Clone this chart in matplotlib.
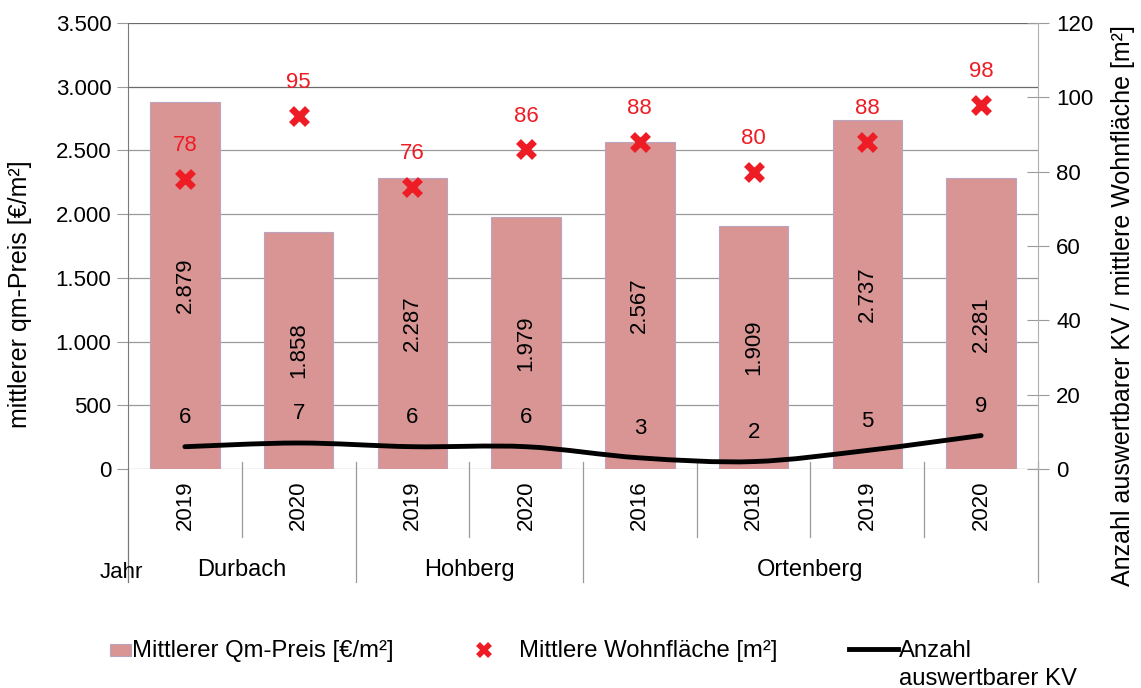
import matplotlib
matplotlib.use("Agg")
import matplotlib.pyplot as plt
from matplotlib.path import Path
from matplotlib.patches import PathPatch, Rectangle
from matplotlib.lines import Line2D
from matplotlib.ticker import FuncFormatter, MultipleLocator

plt.rcParams['font.family'] = ['Liberation Sans', 'DejaVu Sans']

# Data
groups = ["Durbach", "Hohberg", "Ortenberg"]
group_sizes = [2, 2, 4]
years = ["2019", "2020", "2019", "2020", "2016", "2018", "2019", "2020"]
price = [2879, 1858, 2287, 1979, 2567, 1909, 2737, 2281]       # Mittlerer Qm-Preis [€/m²]
area = [78, 95, 76, 86, 88, 80, 88, 98]                         # Mittlere Wohnfläche [m²]
count = [6, 7, 6, 6, 3, 2, 5, 9]                                # Anzahl auswertbarer KV

BAR_COLOR = "#d99594"
BAR_EDGE = "#b9a3bf"
RED = "#ee1c25"
GRID = "#9a9a9a"
FS = 16
GFS = 17
LFS = 18
LEG_FS = 17.2

def de_fmt(v, _pos=None):
    return f"{v:,.0f}".replace(",", ".")

fig = plt.figure(figsize=(11.41, 6.88), dpi=100)
ax = fig.add_axes([0.1122, 0.3183, 0.7975, 0.6483])
ax2 = ax.twinx()

n = len(price)
xs = list(range(n))

# Bars (left axis)
ax.bar(xs, price, width=0.61, color=BAR_COLOR, edgecolor=BAR_EDGE, linewidth=0.8, zorder=2)
for x, v in zip(xs, price):
    ax.text(x, v / 2, de_fmt(v), rotation=90, ha="center", va="center", fontsize=FS, zorder=3)

ax.set_xlim(-0.5, n - 0.5)
ax.set_ylim(0, 3500)
ax.yaxis.set_major_locator(MultipleLocator(500))
ax.yaxis.set_major_formatter(FuncFormatter(de_fmt))
ax.set_axisbelow(True)
for t in range(0, 3501, 500):
    ax.axhline(t, color="#6a6a6a" if t >= 3000 else GRID, lw=0.9, zorder=0)
ax.set_xticks([])
for s in ["top", "bottom"]:
    ax.spines[s].set_visible(False)
ax.spines["left"].set_color("#7a7a7a")
ax.spines["right"].set_visible(False)
ax.tick_params(axis="y", length=8, color=GRID, labelsize=FS, pad=4)
ax.set_ylabel("mittlerer qm-Preis [€/m²]", fontsize=LFS)
ax.yaxis.set_label_coords(-0.106, 0.392)

# Right axis: markers and smoothed count line
ax2.set_ylim(0, 120)
ax2.yaxis.set_major_locator(MultipleLocator(20))
ax2.tick_params(axis="y", direction="inout", length=16, color=GRID, labelsize=FS, pad=5)
for s in ["top", "bottom", "left"]:
    ax2.spines[s].set_visible(False)
ax2.spines["right"].set_color("#b0b0b0")
ax2.set_ylabel("Anzahl auswertbarer KV / mittlere Wohnfläche [m²]", fontsize=LFS)
ax2.yaxis.set_label_coords(1.080, 0.367)

ax2.plot(xs, area, linestyle="none", marker="x", ms=12, mew=5, color=RED, zorder=5)
for x, v in zip(xs, area):
    ax2.annotate(str(v), (x, v), xytext=(0, 24), textcoords="offset points",
                 ha="center", va="center", color=RED, fontsize=FS, zorder=6)

# Smoothed line through the counts (cubic Bezier segments)
pts = list(zip(xs, count))
verts = [pts[0]]
codes = [Path.MOVETO]
for i in range(n - 1):
    p0 = pts[i - 1] if i > 0 else pts[i]
    p1 = pts[i]
    p2 = pts[i + 1]
    p3 = pts[i + 2] if i + 2 < n else pts[i + 1]
    c1 = (p1[0] + (p2[0] - p0[0]) / 6, p1[1] + (p2[1] - p0[1]) / 6)
    c2 = (p2[0] - (p3[0] - p1[0]) / 6, p2[1] - (p3[1] - p1[1]) / 6)
    verts += [c1, c2, p2]
    codes += [Path.CURVE4] * 3
ax2.add_patch(PathPatch(Path(verts, codes), facecolor="none", edgecolor="black",
                        lw=3.5, capstyle="round", zorder=4))
for x, v in zip(xs, count):
    ax2.annotate(str(v), (x, v), xytext=(0, 21), textcoords="offset points",
                 ha="center", va="center", color="black", fontsize=FS, zorder=6)

# Category axis: years, group names and separators
tr = ax.get_xaxis_transform()
for x, y in zip(xs, years):
    ax.text(x, -0.082, y, rotation=90, ha="center", va="center", fontsize=FS, transform=tr)
start = 0
bounds = [-0.5]
for g, size in zip(groups, group_sizes):
    ax.text(start + (size - 1) / 2, -0.226, g, ha="center", va="center", fontsize=GFS, transform=tr)
    start += size
    bounds.append(start - 0.5)
group_edges = set(bounds)
for k in range(1, n + 1):
    b = k - 0.5
    bottom = -0.253 if b in group_edges else -0.152
    ax.add_line(Line2D([b, b], [0.016, bottom], color=GRID, lw=0.9, transform=tr, clip_on=False))
ax.add_line(Line2D([-0.5, -0.5], [0, -0.253], color="#7a7a7a", lw=0.9, transform=tr, clip_on=False))
ax.text(-0.5 - 0.245, -0.232, "Jahr", ha="left", va="center", fontsize=FS, transform=tr)

# Legend along the bottom
def fx(px):
    return px / 1141

def fy(py):
    return 1 - py / 688

fig.add_artist(Rectangle((fx(110), fy(656)), fx(131) - fx(110), fy(644) - fy(656),
                         facecolor=BAR_COLOR, edgecolor=BAR_EDGE, lw=0.8, transform=fig.transFigure))
fig.text(fx(132), fy(651), "Mittlerer Qm-Preis [€/m²]", fontsize=LEG_FS, va="center", ha="left")
fig.add_artist(Line2D([fx(484)], [fy(650)], marker="x", ms=8, mew=4, color=RED, transform=fig.transFigure))
fig.text(fx(519), fy(651), "Mittlere Wohnfläche [m²]", fontsize=LEG_FS, va="center", ha="left")
fig.add_artist(Line2D([fx(849), fx(898)], [fy(649), fy(649)], color="black", lw=3.5, transform=fig.transFigure))
fig.text(fx(899), fy(651), "Anzahl", fontsize=LEG_FS, va="center", ha="left")
fig.text(fx(899), fy(685), "auswertbarer KV", fontsize=LEG_FS, va="baseline", ha="left")

fig.savefig("out.png", dpi=100, facecolor="white")
